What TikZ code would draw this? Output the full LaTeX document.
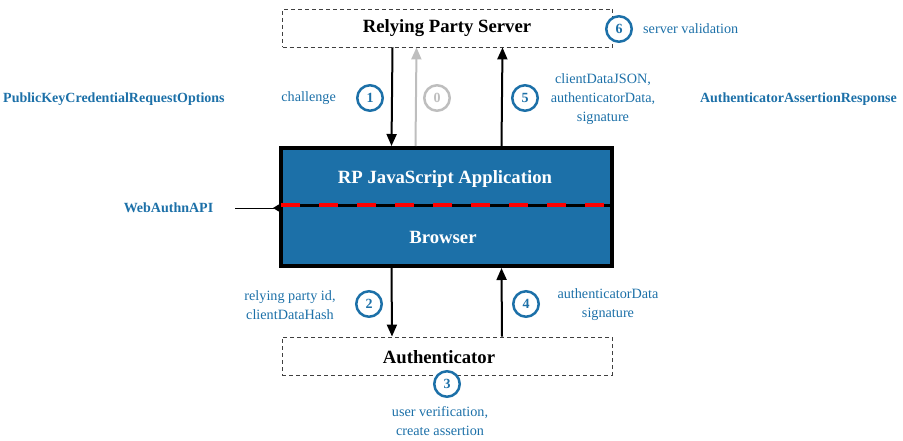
\documentclass[tikz,border=0pt]{standalone}
\usepackage{fontspec}
\setmainfont{Liberation Serif}
\usetikzlibrary{arrows.meta}
\definecolor{wblue}{RGB}{28,112,168}
\definecolor{lgray}{RGB}{190,190,190}
\definecolor{dred}{RGB}{255,0,0}
\begin{document}
\begin{tikzpicture}[x=1pt,y=-1pt,
  num/.style={circle, draw=wblue, fill=white, line width=2.5pt, minimum size=25.5pt, inner sep=0pt, text=wblue, font=\fontsize{14}{14}\selectfont\bfseries},
  lbl/.style={text=wblue, font=\fontsize{14.2}{19}\selectfont, align=center, inner sep=0pt},
  blbl/.style={text=wblue, font=\fontsize{14}{17}\selectfont\bfseries, inner sep=0pt},
  title/.style={font=\fontsize{18.7}{20}\selectfont\bfseries, inner sep=0pt},
  dbox/.style={draw=black!75, dash pattern=on 4pt off 3pt, line width=0.9pt, minimum width=330pt, minimum height=38pt, inner sep=0pt},
  arr/.style={line width=2pt, -{Triangle[length=12pt,width=10pt]}},
]
\useasboundingbox (0,0) rectangle (903,441);

% boxes
\node[dbox] (rps) at (447.5,28) {};
\node[title] (rpst) at (447,28) {Relying Party Server};
\node[draw=black, line width=4pt, fill=wblue, minimum width=331pt, minimum height=118pt, inner sep=0pt] (app) at (446.5,207) {};
\draw[line width=3pt] (app.west |- 0,206) -- (app.east |- 0,206);
\draw[dred, line width=4pt, dash pattern=on 19pt off 19pt] ([xshift=2pt]app.west |- 0,205) -- ([xshift=-2pt]app.east |- 0,205);
\node[title, text=white] (rpja) at (445,179) {RP JavaScript Application};
\node[title, text=white] (brw) at (443,237) {Browser};
\node[dbox] (auth) at (447,356) {};
\node[title] (autht) at (439,357) {Authenticator};

% arrows
\draw[arr] ([xshift=-55pt]rps.south) -- ([xshift=-55pt]app.north);
\draw[arr, color=lgray] ([xshift=-31pt]app.north) -- ([xshift=-31pt]rps.south);
\draw[arr] ([xshift=55pt]app.north) -- ([xshift=55pt]rps.south);
\draw[arr] ([xshift=-55pt]app.south) -- ([xshift=-55pt]auth.north);
\draw[arr] ([xshift=55pt]auth.north) -- ([xshift=55pt]app.south);

% numbers
\node[num] (n1) at (370,98) {1};
\node[num, draw=lgray, text=lgray] (n0) at (437,98) {0};
\node[num] (n5) at (525,98) {5};
\node[num] (n6) at (619,29) {6};
\node[num] (n2) at (369,304) {2};
\node[num] (n4) at (526,304) {4};
\node[num] (n3) at (447,384) {3};

% labels
\node[lbl, anchor=east] (lchal) at (336,98) {challenge};
\node[lbl] (lcdj) at (603,99) {clientDataJSON,\\authenticatorData,\\signature};
\node[lbl, anchor=west] (lsv) at (643,29) {server validation};
\node[lbl] (lrpid) at (290,305) {relying party id,\\clientDataHash};
\node[lbl] (lad) at (608,305) {authenticatorData\\signature};
\node[lbl] (luv) at (440,421) {user verification,\\create assertion};
\node[blbl, anchor=west] (pkcro) at (3,99) {PublicKeyCredentialRequestOptions};
\node[blbl, anchor=east] (aar) at (897,99) {AuthenticatorAssertionResponse};
\node[blbl] (wa) at (168.5,208) {WebAuthnAPI};
\draw[line width=0.9pt, -{Triangle[length=6pt,width=7pt,reversed]}] ([xshift=22pt]wa.east) -- (wa.east -| app.west);
\end{tikzpicture}
\end{document}
